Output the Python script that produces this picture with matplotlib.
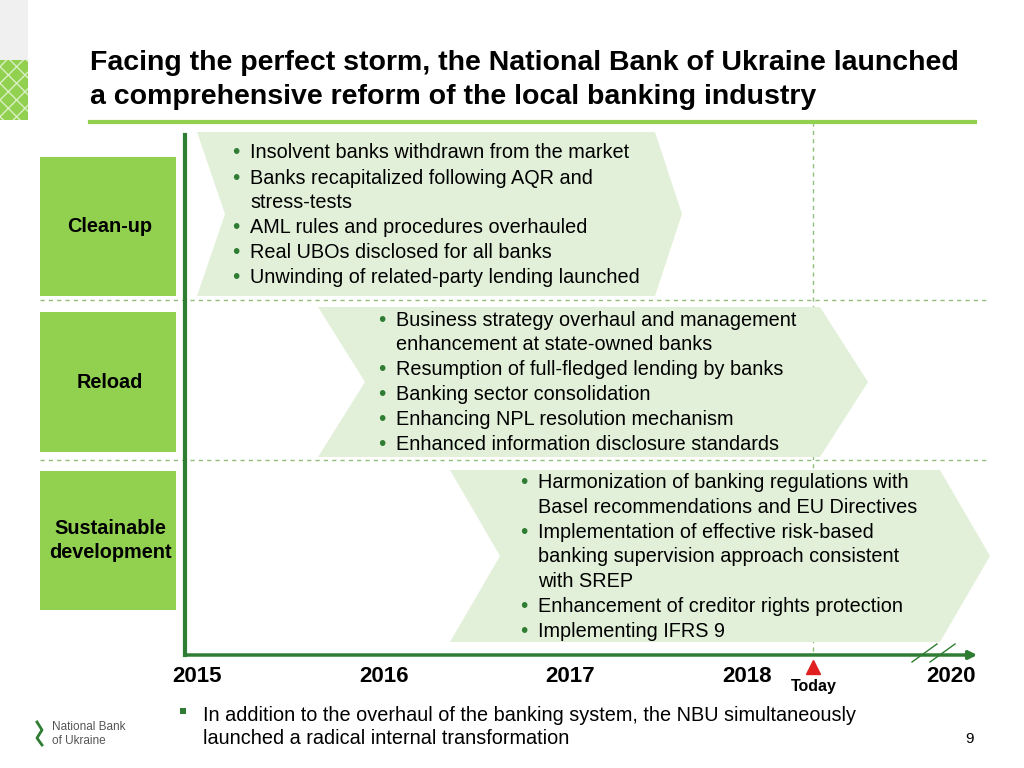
import matplotlib
matplotlib.use("Agg")
import matplotlib.pyplot as plt
from matplotlib.patches import Polygon, Rectangle

plt.rcParams['font.family'] = ['Liberation Sans', 'DejaVu Sans']

title = "Facing the perfect storm, the National Bank of Ukraine launched\na comprehensive reform of the local banking industry"
phases = ["Clean-up", "Reload", "Sustainable\ndevelopment"]
bullets = [
    ["Insolvent banks withdrawn from the market",
     "Banks recapitalized following AQR and\nstress-tests",
     "AML rules and procedures overhauled",
     "Real UBOs disclosed for all banks",
     "Unwinding of related-party lending launched"],
    ["Business strategy overhaul and management\nenhancement at state-owned banks",
     "Resumption of full-fledged lending by banks",
     "Banking sector consolidation",
     "Enhancing NPL resolution mechanism",
     "Enhanced information disclosure standards"],
    ["Harmonization of banking regulations with\nBasel recommendations and EU Directives",
     "Implementation of effective risk-based\nbanking supervision approach consistent\nwith SREP",
     "Enhancement of creditor rights protection",
     "Implementing IFRS 9"],
]
years = ["2015", "2016", "2017", "2018", "2020"]
year_x = [197, 384, 570, 747, 951]
today_label = "Today"
footnote = "In addition to the overhaul of the banking system, the NBU simultaneously\nlaunched a radical internal transformation"
page = "9"

LIGHT = "#e2f0d9"
GREEN = "#92d050"
DARK = "#2e7d32"

fig = plt.figure(figsize=(10.24, 7.68), dpi=100)
ax = fig.add_axes([0, 0, 1, 1])
ax.set_xlim(0, 1024)
ax.set_ylim(768, 0)
ax.axis("off")

# corner decoration
ax.add_patch(Rectangle((0, 0), 28, 60, color="#f0f0f0", lw=0))
ax.add_patch(Rectangle((0, 60), 28, 60, facecolor=GREEN, edgecolor="#d9efc4", hatch="xx", lw=0))

ax.text(90, 80, title, fontsize=20.5, fontweight="bold", va="center", linespacing=1.45)
ax.plot([90, 975], [122, 122], color=GREEN, lw=3)

# dashed separators (behind chevrons)
for y in [300, 460]:
    ax.plot([40, 990], [y, y], ls=(0, (3, 3)), color="#8fbf7a", lw=1, zorder=0.5)
ax.plot([813, 813], [122, 655], ls=(0, (3, 3)), color="#8fbf7a", lw=1, zorder=0.5)

# chevrons: (left, notch depth, body right, tip right, top, bottom)
chev = [(197, 28, 655, 682, 132, 296), (318, 47, 820, 868, 307, 457), (450, 50, 940, 990, 470, 642)]
for l, d, r, t, top, bot in chev:
    mid = (top + bot) / 2
    ax.add_patch(Polygon([(l, top), (r, top), (t, mid), (r, bot), (l, bot), (l + d, mid)],
                         closed=True, color=LIGHT, lw=0, zorder=1))

# phase boxes
boxes = [(157, 296), (312, 452), (471, 610)]
for (t, b), name in zip(boxes, phases):
    ax.add_patch(Rectangle((40, t), 136, b - t, color=GREEN, lw=0, zorder=3))
    ax.text(110, (t + b) / 2, name, ha="center", va="center", fontsize=14.3,
            fontweight="bold", linespacing=1.3, zorder=4)

# bullet texts
starts = [(236, 153), (382, 320), (524, 483)]
for (bx, y0), items in zip(starts, bullets):
    y = y0
    for it in items:
        ax.text(bx, y, "•", color=DARK, fontsize=15, va="center", ha="center", zorder=4)
        for line in it.split("\n"):
            ax.text(bx + 14, y, line, fontsize=14.3, va="center", zorder=4)
            y += 24.5
        y += 0.5

# axes
ax.plot([185, 185], [135, 655], color=DARK, lw=3, zorder=5)
ax.annotate("", xy=(980, 655), xytext=(183, 655),
            arrowprops=dict(arrowstyle="-|>", color=DARK, lw=2.5, mutation_scale=12), zorder=5)
for dx in [0, 18]:
    ax.plot([912 + dx, 937 + dx], [662, 644], color=DARK, lw=1, zorder=6)

for yr, x in zip(years, year_x):
    ax.text(x, 676, yr, fontsize=16, fontweight="bold", ha="center", va="center")
ax.plot([813], [667], marker="^", color="#e02020", markersize=10)
ax.text(814, 686, today_label, fontsize=11.5, fontweight="bold", ha="center", va="center")

# footer
ax.add_patch(Rectangle((180, 708), 6, 6, color=DARK, lw=0))
ax.text(203, 727, footnote, fontsize=14.3, va="center", linespacing=1.3)
ax.text(970, 739, page, fontsize=11, ha="center", va="center")
ax.plot([37, 42, 37, 42], [722, 730, 738, 745], color=DARK, lw=2)
ax.text(52, 734, "National Bank\nof Ukraine", fontsize=8.5, color="#555555", va="center", linespacing=1.2)

fig.savefig("out.png", dpi=100)
